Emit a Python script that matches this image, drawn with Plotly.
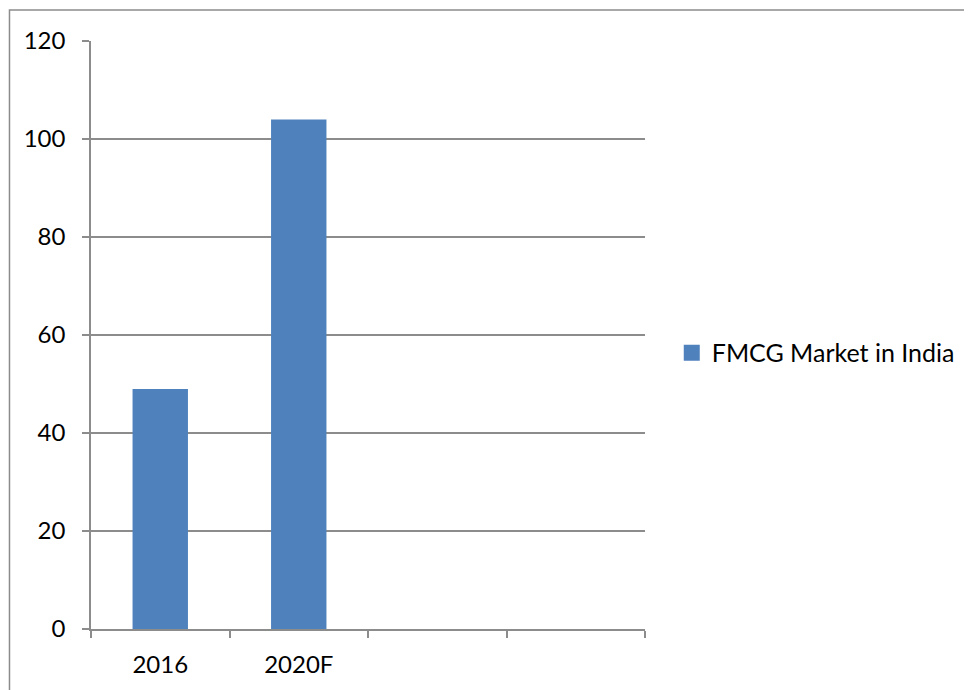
import plotly.graph_objects as go

categories = ["2016", "2020F", " ", "  "]
values = [49, 104, None, None]
series_name = "FMCG Market in India"
y_ticks = [0, 20, 40, 60, 80, 100, 120]

# page body has an 8px offset; figure is sized to end at the window edge
W, H = 964, 682
L, R, T, B = 83, 642, 33, 623
pw, ph = R - L, B - T

bar_color = "#4F81BD"
grid = "#8C8C8C"

fig = go.Figure()
fig.add_trace(go.Bar(x=categories, y=values, name=series_name,
                     marker=dict(color=bar_color, line=dict(width=0)),
                     width=0.4, showlegend=False))
# legend entry (square swatch)
fig.add_trace(go.Scatter(x=[categories[0]], y=[None], mode="markers", name=series_name,
                         marker=dict(symbol="square", size=16, color=bar_color),
                         showlegend=True, hoverinfo="skip"))

fig.update_layout(
    width=W, height=H,
    margin=dict(l=L, r=W - R, t=T, b=H - B, pad=0),
    paper_bgcolor="white", plot_bgcolor="white",
    font=dict(family="Lato, Open Sans, sans-serif", size=24, color="black"),
    showlegend=True,
    legend=dict(x=(677 - 8 - L) / pw, y=(B - (354 - 8)) / ph, xanchor="left", yanchor="middle",
                font=dict(size=25), bgcolor="rgba(0,0,0,0)", itemwidth=30,
                borderwidth=0),
    xaxis=dict(type="category", categoryorder="array", categoryarray=categories,
               range=[-0.5, 3.5], tickson="boundaries", ticks="outside", ticklen=7,
               tickcolor=grid, tickwidth=1.5, showline=True, linecolor=grid, linewidth=1.5,
               showgrid=False, tickfont=dict(size=24), ticklabelstandoff=13,
               fixedrange=True),
    yaxis=dict(range=[0, 120], tickvals=y_ticks, ticks="outside", ticklen=7,
               tickcolor=grid, tickwidth=1.5, showline=True, linecolor=grid, linewidth=1.5,
               showgrid=True, gridcolor=grid, gridwidth=1.5, zeroline=False,
               tickfont=dict(size=24), ticklabelstandoff=12),
    shapes=[dict(type="rect", xref="paper", yref="paper",
                 x0=(0.75 - L) / pw, x1=(W + 10 - L) / pw,
                 y0=(B - (H + 10)) / ph, y1=(B - 2) / ph,
                 line=dict(color="#8C8C8C", width=1.5), fillcolor="rgba(0,0,0,0)",
                 layer="below")],
)
fig.write_html("out.html")
